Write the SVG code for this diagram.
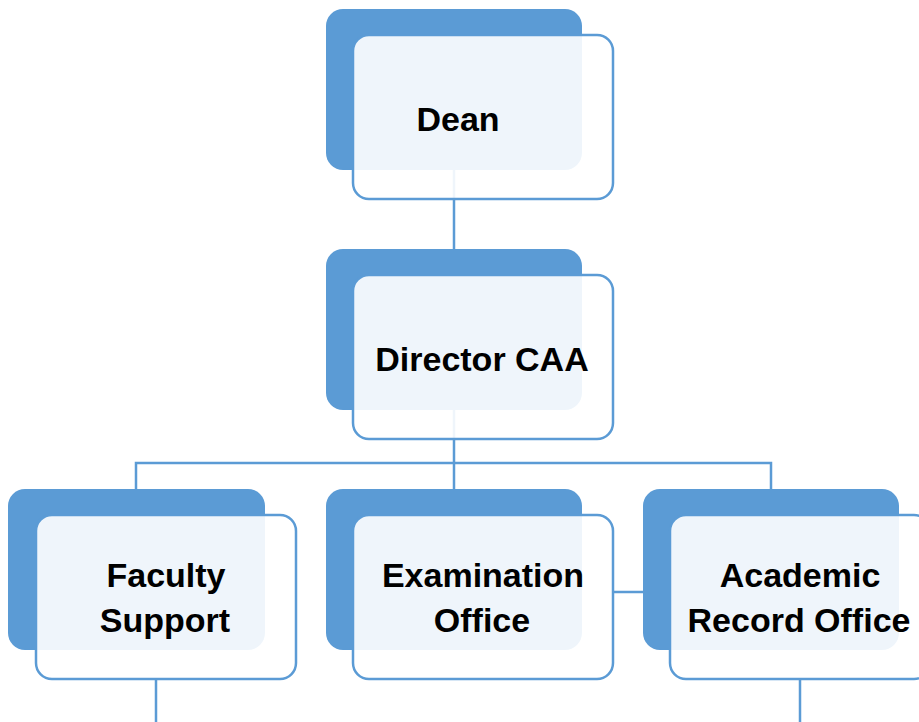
<svg xmlns="http://www.w3.org/2000/svg" width="919" height="722" viewBox="0 0 919 722">
<style>
.back{fill:#5B9BD5;}
.front{fill:#FFFFFF;fill-opacity:0.9;stroke:#5B9BD5;stroke-width:2.5;}
.conn{stroke:#5B9BD5;stroke-width:2.5;fill:none;}
.lbl{font-family:"Liberation Sans",Arial,sans-serif;font-weight:bold;font-size:34px;fill:#000;text-anchor:middle;}
</style>
<rect width="919" height="722" fill="#FFFFFF"/>
<g id="connectors">
<line class="conn" x1="454" y1="170" x2="454" y2="249"/>
<line class="conn" x1="454" y1="410" x2="454" y2="489"/>
<polyline class="conn" points="136,489 136,463 771,463 771,489"/>
<line class="conn" x1="613" y1="592" x2="643" y2="592"/>
<line class="conn" x1="156" y1="679" x2="156" y2="722"/>
<line class="conn" x1="800" y1="679" x2="800" y2="722"/>
</g>
<g id="dean">
<rect class="back" x="326" y="9" width="256" height="161" rx="17"/>
<rect class="front" x="353" y="35" width="260" height="164" rx="16"/>
<text class="lbl" x="458" y="131">Dean</text>
</g>
<g id="director">
<rect class="back" x="326" y="249" width="256" height="161" rx="17"/>
<rect class="front" x="353" y="275" width="260" height="164" rx="16"/>
<text class="lbl" x="482" y="371">Director CAA</text>
</g>
<g id="faculty">
<rect class="back" x="8" y="489" width="257" height="161" rx="17"/>
<rect class="front" x="36" y="515" width="260" height="164" rx="16"/>
<text class="lbl" x="166" y="587">Faculty</text>
<text class="lbl" x="165" y="632">Support</text>
</g>
<g id="examination">
<rect class="back" x="326" y="489" width="256" height="161" rx="17"/>
<rect class="front" x="353" y="515" width="260" height="164" rx="16"/>
<text class="lbl" x="483" y="587">Examination</text>
<text class="lbl" x="482" y="632">Office</text>
</g>
<g id="academic">
<rect class="back" x="643" y="489" width="256" height="161" rx="17"/>
<rect class="front" x="670" y="515" width="260" height="164" rx="16"/>
<text class="lbl" x="800" y="587">Academic</text>
<text class="lbl" x="799" y="632">Record Office</text>
</g>
</svg>
